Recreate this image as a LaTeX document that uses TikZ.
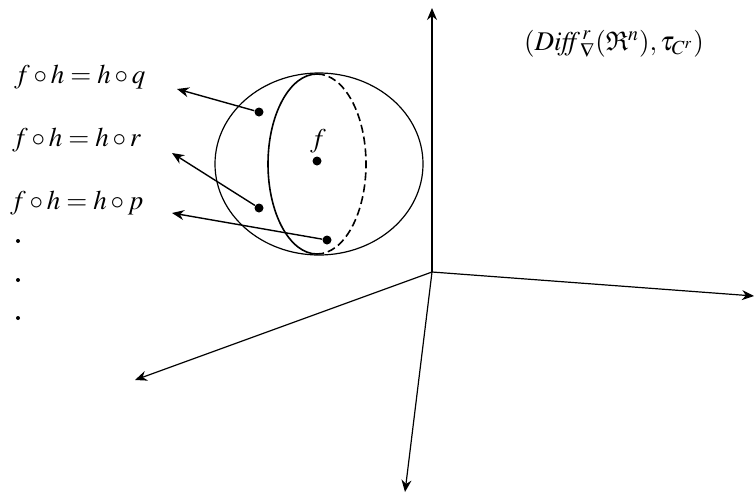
\documentclass[tikz,border=0pt]{standalone}
\usepackage{amssymb}
\usepackage{mathptmx}
\usetikzlibrary{arrows.meta}
\begin{document}
\begin{tikzpicture}[x=0.5pt,y=-0.5pt,
  axis/.style={line width=0.6pt,-{Stealth[length=6pt,width=5pt]}},
  ptr/.style={line width=0.7pt,-{Stealth[length=6pt,width=5pt]}},
  pt/.style={circle,fill=black,inner sep=0pt,minimum size=4.5pt},
  lab/.style={inner sep=0pt,font=\fontsize{13.5}{16}\selectfont},
  small dot/.style={circle,fill=black,inner sep=0pt,minimum size=2pt}]
\useasboundingbox (0,0) rectangle (754,499);
% axes
\coordinate (O) at (432,272);
\coordinate (up) at (432,8);
\coordinate (right) at (754,296);
\coordinate (dl) at (135,380);
\coordinate (dn) at (405,492);
\draw[axis] (O) -- (up);
\draw[axis] (O) -- (right);
\draw[axis] (O) -- (dl);
\draw[axis] (O) -- (dn);
% sphere
\draw[line width=0.6pt] (319,164) ellipse [x radius=104, y radius=91];
\draw[line width=0.8pt] (317,74) arc[start angle=-90,end angle=-270,x radius=49,y radius=90];
\draw[line width=0.8pt,dashed,dash pattern=on 4pt off 2pt] (317,74) arc[start angle=-90,end angle=90,x radius=49,y radius=90];
% points
\node[pt] (c) at (317,161) {};
\node[lab] (fl) at (318,141) {$f$};
\node[pt] (q) at (259,112) {};
\node[pt] (r) at (259,208) {};
\node[pt] (p) at (327,240) {};
\coordinate (qt) at (177,89);
\coordinate (rt) at (172,153);
\coordinate (pt2) at (172,213);
\draw[ptr] (q) -- (qt);
\draw[ptr] (r) -- (rt);
\draw[ptr] (p) -- (pt2);
% labels
\node[lab,anchor=west] (lq) at (14,77) {$f\circ h=h\circ q$};
\node[lab,anchor=west] (lr) at (12,140) {$f\circ h=h\circ r$};
\node[lab,anchor=west] (lp) at (10,203) {$f\circ h=h\circ p$};
\node[small dot] (d1) at (18,241) {};
\node[small dot] (d2) at (18,280) {};
\node[small dot] (d3) at (18,318) {};
% title
\node[lab] (title) at (614,44) {$\left(\mathit{Diff}^{\,r}_{\nabla}\!\left(\mathfrak{R}^{n}\right)\!,\tau_{C^{r}}\right)$};
\end{tikzpicture}
\end{document}
